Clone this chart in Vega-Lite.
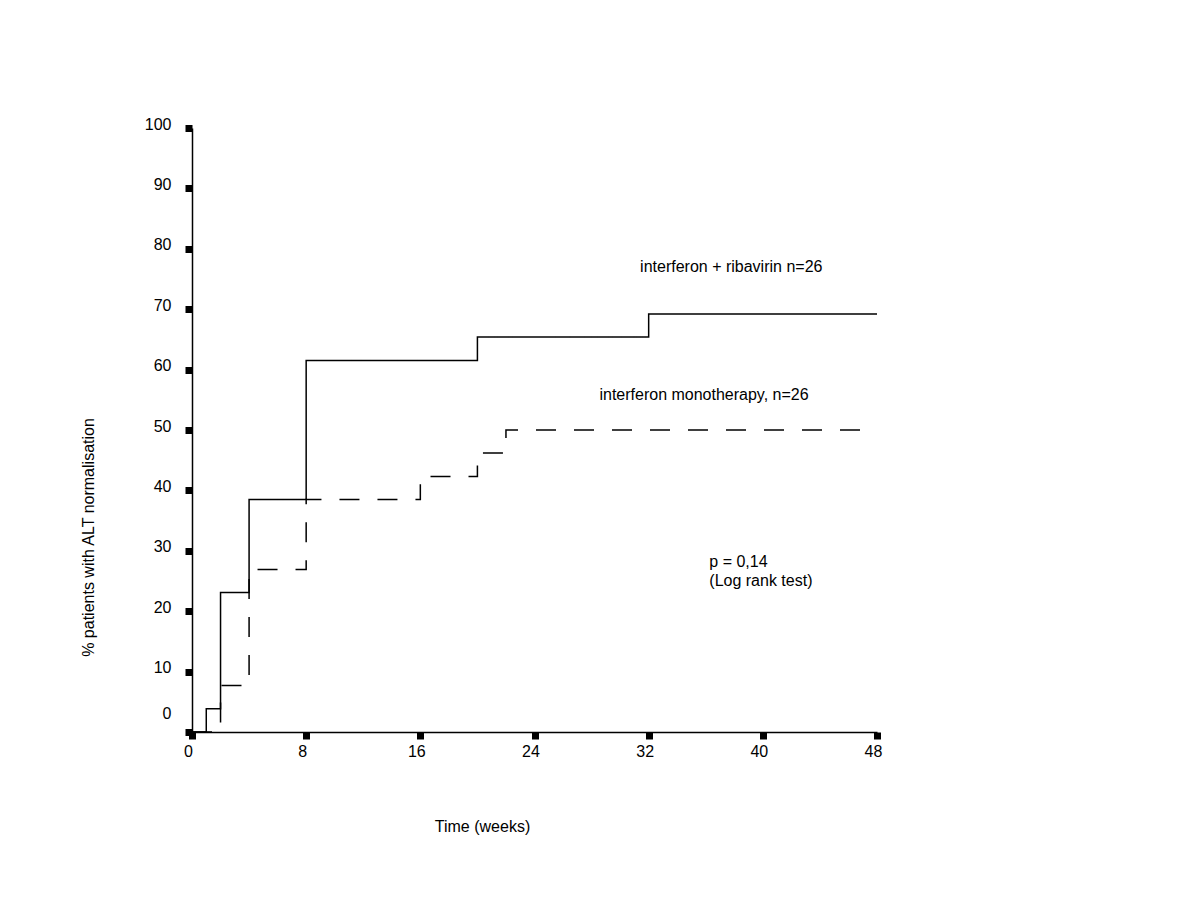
{
  "$schema": "https://vega.github.io/schema/vega-lite/v6.json",
  "width": 685,
  "height": 604,
  "autosize": {"type": "none"},
  "padding": {"left": 192, "top": 128, "right": 323, "bottom": 168},
  "background": "white",
  "config": {"view": {"stroke": null}, "font": "Liberation Sans"},
  "datasets": {
    "curves": [
      {"group": "combo", "week": 0, "pct": 0},
      {"group": "combo", "week": 1, "pct": 3.85},
      {"group": "combo", "week": 2, "pct": 23.1},
      {"group": "combo", "week": 4, "pct": 38.5},
      {"group": "combo", "week": 8, "pct": 61.5},
      {"group": "combo", "week": 20, "pct": 65.4},
      {"group": "combo", "week": 32, "pct": 69.2},
      {"group": "combo", "week": 48, "pct": 69.2},
      {"group": "mono", "week": 0, "pct": 0},
      {"group": "mono", "week": 2, "pct": 7.7},
      {"group": "mono", "week": 4, "pct": 26.9},
      {"group": "mono", "week": 8, "pct": 38.5},
      {"group": "mono", "week": 16, "pct": 42.3},
      {"group": "mono", "week": 20, "pct": 46.2},
      {"group": "mono", "week": 22, "pct": 50},
      {"group": "mono", "week": 48, "pct": 50}
    ],
    "notes": [
      {"week": 31.4, "pct": 77, "label": "interferon + ribavirin n=26"},
      {"week": 28.55, "pct": 55.8, "label": "interferon monotherapy, n=26"},
      {"week": 36.25, "pct": 28.1, "label": "p = 0,14"},
      {"week": 36.25, "pct": 25.0, "label": "(Log rank test)"}
    ]
  },
  "layer": [
    {
      "data": {"name": "curves"},
      "mark": {"type": "line", "interpolate": "step-after", "color": "black", "strokeWidth": 1.5},
      "encoding": {
        "x": {
          "field": "week", "type": "quantitative",
          "scale": {"domain": [0, 48], "nice": false},
          "axis": {
            "values": [0, 8, 16, 24, 32, 40, 48],
            "title": "Time (weeks)",
            "grid": false,
            "domainColor": "black", "domainWidth": 1.5,
            "tickColor": "black", "tickSize": 7, "tickWidth": 7,
            "labelFontSize": 16, "labelColor": "black", "labelPadding": 4,
            "labelFlush": false, "labelOffset": -4,
            "titleFontSize": 16, "titleFontWeight": "normal", "titleColor": "black",
            "titleX": 290, "titleY": 94, "titleBaseline": "middle", "titleAlign": "center"
          }
        },
        "y": {
          "field": "pct", "type": "quantitative",
          "scale": {"domain": [0, 100], "nice": false},
          "axis": {
            "values": [0, 10, 20, 30, 40, 50, 60, 70, 80, 90, 100],
            "title": "% patients with ALT normalisation",
            "grid": false,
            "domainColor": "black", "domainWidth": 1.5,
            "tickColor": "black", "tickSize": 7, "tickWidth": 7,
            "labelFontSize": 16, "labelColor": "black", "labelPadding": 14,
            "labelOffset": {"condition": {"test": "datum.value === 0", "value": -19}, "value": -4},
            "titleFontSize": 16, "titleFontWeight": "normal", "titleColor": "black",
            "titleX": -104, "titleY": 409, "titleBaseline": "middle", "titleAlign": "center", "titleAngle": -90
          }
        },
        "detail": {"field": "group"},
        "strokeDash": {
          "field": "group", "type": "nominal",
          "scale": {"domain": ["combo", "mono"], "range": [[1, 0], [20, 18]]},
          "legend": null
        }
      }
    },
    {
      "data": {"name": "notes"},
      "mark": {"type": "text", "align": "left", "baseline": "middle", "fontSize": 16, "color": "black"},
      "encoding": {
        "x": {"field": "week", "type": "quantitative"},
        "y": {"field": "pct", "type": "quantitative"},
        "text": {"field": "label"}
      }
    }
  ]
}
